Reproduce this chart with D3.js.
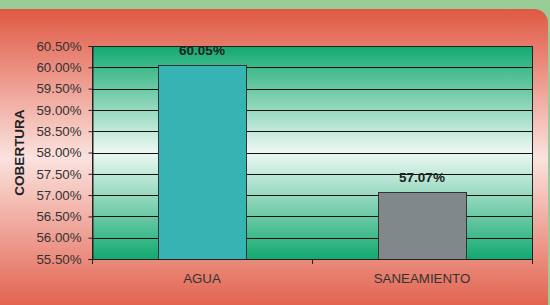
<!DOCTYPE html>
<html><head><meta charset="utf-8">
<script src="https://cdn.jsdelivr.net/npm/d3@7"></script>
<style>body{margin:0;background:#98cd98;}svg{display:block;}</style>
</head><body>
<script>
const categories = ["AGUA", "SANEAMIENTO"];
const values = [60.05, 57.07];
const valueLabels = ["60.05%", "57.07%"];
const barColors = ["#36b3b3", "#808889"];
const yTicks = [55.5, 56, 56.5, 57, 57.5, 58, 58.5, 59, 59.5, 60, 60.5];

const W = 550, H = 305;
const svg = d3.select("body").append("svg").attr("width", W).attr("height", H);
const defs = svg.append("defs");
const rg = defs.append("linearGradient").attr("id","bgRed").attr("x1",0).attr("y1",0).attr("x2",0).attr("y2",1);
rg.append("stop").attr("offset","0%").attr("stop-color","#e05843");
rg.append("stop").attr("offset","48%").attr("stop-color","#fbe2de");
rg.append("stop").attr("offset","100%").attr("stop-color","#e05843");
const gg = defs.append("linearGradient").attr("id","plotGreen").attr("x1",0).attr("y1",0).attr("x2",0).attr("y2",1);
gg.append("stop").attr("offset","0%").attr("stop-color","#12a970");
gg.append("stop").attr("offset","50%").attr("stop-color","#eef9f4");
gg.append("stop").attr("offset","100%").attr("stop-color","#12a970");

svg.append("rect").attr("width",W).attr("height",H).attr("fill","#98cd98");
svg.append("rect").attr("x",-14).attr("y",9).attr("width",562).attr("height",310).attr("rx",14).attr("fill","url(#bgRed)");

const m = {l:92, r:532, t:46, b:259};
const x = d3.scaleBand().domain(categories).range([m.l, m.r]).paddingInner(0).paddingOuter(0);
const y = d3.scaleLinear().domain([55.5, 60.5]).range([m.b, m.t]);

svg.append("rect").attr("x",m.l).attr("y",m.t).attr("width",m.r-m.l).attr("height",m.b-m.t).attr("fill","url(#plotGreen)");

svg.append("g").selectAll("line").data(yTicks).join("line")
  .attr("x1",m.l).attr("x2",m.r).attr("y1",d=>Math.round(y(d))+0.5).attr("y2",d=>Math.round(y(d))+0.5)
  .attr("stroke","#111").attr("stroke-width",1);

const bw = x.bandwidth()*0.4;
svg.append("g").selectAll("rect").data(values).join("rect")
  .attr("x",(d,i)=>Math.round(x(categories[i])+(x.bandwidth()-bw)/2)+0.5)
  .attr("y",d=>Math.round(y(d))+0.5)
  .attr("width",bw).attr("height",d=>m.b-Math.round(y(d)))
  .attr("fill",(d,i)=>barColors[i]).attr("stroke","#333").attr("stroke-width",1);

svg.append("g").selectAll("text").data(values).join("text")
  .attr("x",(d,i)=>x(categories[i])+x.bandwidth()/2)
  .attr("y",d=>y(d)-10)
  .attr("text-anchor","middle").attr("font-family","Liberation Sans, Arial, sans-serif")
  .attr("font-size",13.5).attr("font-weight","bold").attr("fill","#222")
  .text((d,i)=>valueLabels[i]);

svg.append("rect").attr("x",m.l+0.5).attr("y",m.t+0.5).attr("width",m.r-m.l).attr("height",m.b-m.t)
  .attr("fill","none").attr("stroke","#222").attr("stroke-width",1);

const yAxis = svg.append("g").attr("transform",`translate(${m.l+0.5},0)`)
  .call(d3.axisLeft(y).tickValues(yTicks).tickSize(4).tickPadding(7).tickFormat(d=>d.toFixed(2)+"%"));
yAxis.select(".domain").attr("stroke","#222");
yAxis.selectAll(".tick line").attr("stroke","#222");
yAxis.selectAll("text").attr("font-family","Liberation Sans, Arial, sans-serif").attr("font-size",13.3).attr("fill","#333");

const xAxis = svg.append("g").attr("transform",`translate(0,${m.b+0.5})`)
  .call(d3.axisBottom(x).tickSize(0).tickPadding(14));
xAxis.select(".domain").remove();
xAxis.selectAll("text").attr("font-family","Liberation Sans, Arial, sans-serif").attr("font-size",13.3).attr("fill","#333");
const seps = [m.l, m.l + x.bandwidth(), m.r];
svg.append("g").selectAll("line").data(seps).join("line")
  .attr("x1",d=>d+0.5).attr("x2",d=>d+0.5).attr("y1",m.b).attr("y2",m.b+5).attr("stroke","#222");

svg.append("text").attr("transform",`translate(24,${(m.t+m.b)/2}) rotate(-90)`)
  .attr("text-anchor","middle").attr("font-family","Liberation Sans, Arial, sans-serif")
  .attr("font-size",13.5).attr("font-weight","bold").attr("fill","#222").text("COBERTURA");
</script>
</body></html>
